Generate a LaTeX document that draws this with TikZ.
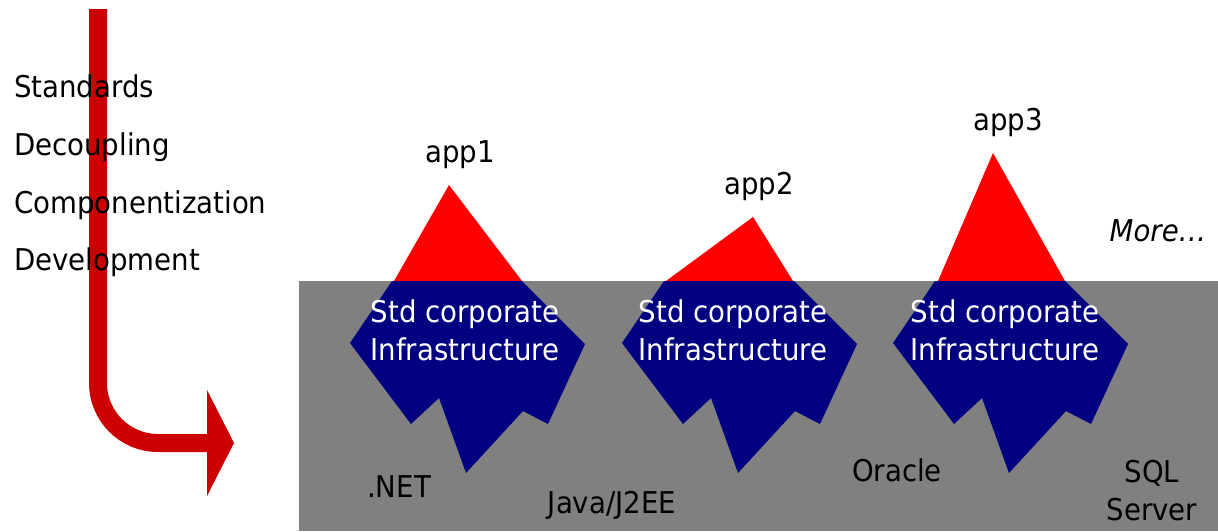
\documentclass[tikz,border=0pt]{standalone}
\usepackage{fontspec}
\setmainfont{DejaVu Sans}[FakeStretch=0.92]
\definecolor{sea}{HTML}{808080}
\definecolor{berg}{HTML}{000080}
\definecolor{peak}{HTML}{FF0000}
\definecolor{flow}{HTML}{CC0000}
\tikzset{
  side/.style={anchor=base west, inner sep=0pt},
  lbl/.style={anchor=base, inner sep=0pt, align=center},
  infra/.style={lbl, text=white},
}
\begin{document}
\begin{tikzpicture}[x=1pt, y=-1pt, font=\fontsize{30}{38}\selectfont]
\useasboundingbox (0,0) rectangle (1218,531);

% bent arrow
\draw [flow, line width=18pt, rounded corners=60pt] (98,9) -- (98,443) -- (208,443);
\fill [flow] (207,390) -- (234,443) -- (207,496) -- cycle;

\node [side] (std) at (14,97) {Standards};
\node [side] (dec) at (14,155) {Decoupling};
\node [side] (comp) at (14,213) {Componentization};
\node [side] (dev) at (14,270) {Development};

% tips above the water
\fill [peak] (449,185) -- (394,281) -- (522,281) -- cycle;
\fill [peak] (753,217) -- (666,281) -- (793,281) -- cycle;
\fill [peak] (993,153) -- (938,281) -- (1065,281) -- cycle;

\fill [sea] (299,281) rectangle (1218,531);

\foreach \dx in {0,272,543}
  \fill [berg, xshift=\dx] (392,281) -- (522,281) -- (585,344) -- (548,424) -- (523,411)
    -- (466,473) -- (439,398) -- (411,424) -- (350,343) -- cycle;

\node [lbl] (app1) at (460,162) {app1};
\node [lbl] (app2) at (759,194) {app2};
\node [lbl] (app3) at (1008,130) {app3};
\node [lbl] (more) at (1158,241) {\itshape More\ldots};

% base of a two-line node is its last line
\node [infra] (infra1) at (465,360) {Std corporate\\Infrastructure};
\node [infra] (infra2) at (733,360) {Std corporate\\Infrastructure};
\node [infra] (infra3) at (1005,360) {Std corporate\\Infrastructure};

\node [lbl] (net) at (399,497) {.NET};
\node [lbl] (java) at (612,513) {Java/J2EE};
\node [lbl] (ora) at (897,481) {Oracle};
\node [lbl] (sql) at (1152,520) {SQL\\Server};
\end{tikzpicture}
\end{document}
